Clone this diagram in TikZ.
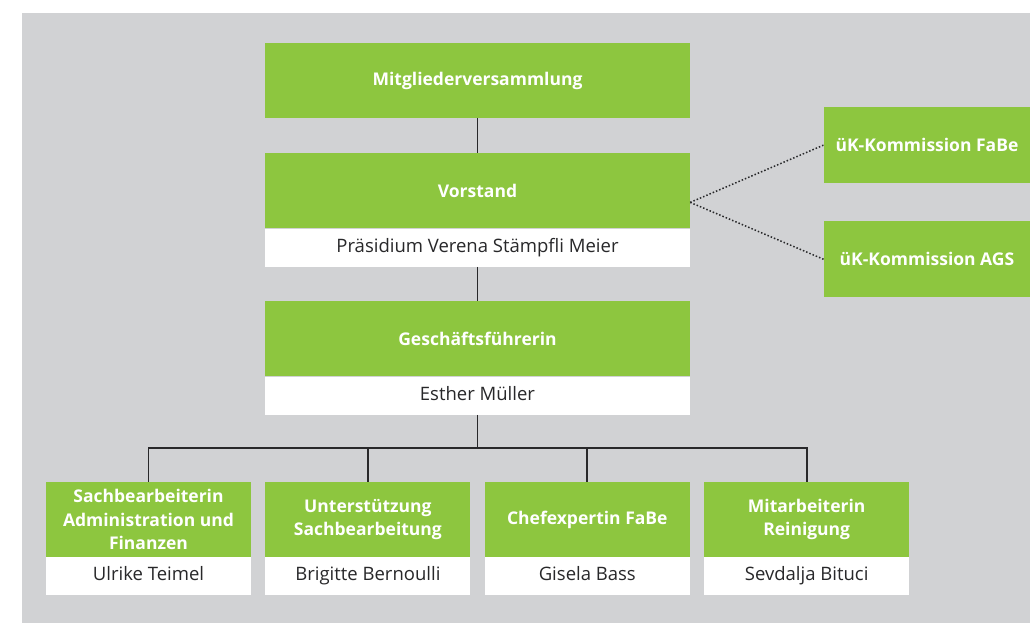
\documentclass[tikz,border=0pt]{standalone}
\usepackage{fontspec}
\setmainfont{Open Sans}
\usetikzlibrary{positioning}
\definecolor{orggreen}{RGB}{141, 198, 63}
\definecolor{orggray}{RGB}{209, 210, 212}
\definecolor{nametext}{RGB}{40, 40, 42}
\definecolor{linecolor}{RGB}{40, 40, 42}
\tikzset{
  rolebox/.style={
    rectangle, inner sep=0pt,
    minimum width=425bp, minimum height=75bp,
    text centered, align=center, font=\fontsize{17.5bp}{23.5bp}\selectfont\bfseries,
    fill=orggreen, text=white
  },
  namebox/.style={
    rectangle, inner sep=0pt,
    minimum width=425bp, minimum height=38bp,
    text height=13.5bp, text depth=4.5bp,
    text centered, font=\fontsize{18.5bp}{22bp}\selectfont,
    fill=white, text=nametext
  },
  staffbox/.style={
    rolebox, minimum width=205bp
  },
  staffname/.style={
    namebox, minimum width=205bp
  },
  kommbox/.style={
    rolebox, minimum width=206bp, minimum height=76bp
  },
  orgline/.style={
    line width=1.8bp, color=linecolor
  },
  dotline/.style={
    line width=1.5bp, color=linecolor, dash pattern=on 1.5bp off 2bp
  }
}
\begin{document}
\begin{tikzpicture}[x=1bp, y=1bp, node distance=35bp]

  % ── Canvas / background ─────────────────────────────────────
  \useasboundingbox (0,0) rectangle (1030,623);
  \fill[orggray] (22,0) rectangle (1030,610);

  % ── Main column ─────────────────────────────────────────────
  \node[rolebox] (mv) at (477.5,542.5) {Mitgliederversammlung};
  \node[rolebox, below=of mv]             (vorstand)  {Vorstand};
  \node[namebox, below=0pt of vorstand]   (praesidium) {Präsidium Verena Stämpfli Meier};
  \node[rolebox, below=34bp of praesidium] (gf)       {Geschäftsführerin};
  \node[namebox, below=0pt of gf]         (gfname)    {Esther Müller};

  % ── Commissions ─────────────────────────────────────────────
  \node[kommbox] (kfabe) at (927,478)     {üK-Kommission FaBe};
  \node[kommbox, below=38bp of kfabe] (kags) {üK-Kommission AGS};

  % ── Staff ───────────────────────────────────────────────────
  \node[staffbox] (sach) at (148.5,103.5) {Sachbearbeiterin\\Administration und\\Finanzen};
  \node[staffbox, right=14bp of sach]  (unter) {Unterstützung\\Sachbearbeitung};
  \node[staffbox, right=14bp of unter] (chef)  {Chefexpertin FaBe};
  \node[staffbox, right=14bp of chef]  (reinig) {Mitarbeiterin\\Reinigung};
  \node[staffname, below=0pt of sach]   (sachname)   {Ulrike Teimel};
  \node[staffname, below=0pt of unter]  (untername)  {Brigitte Bernoulli};
  \node[staffname, below=0pt of chef]   (chefname)   {Gisela Bass};
  \node[staffname, below=0pt of reinig] (reinigname) {Sevdalja Bituci};

  % ── Connectors ──────────────────────────────────────────────
  \draw[orgline] (mv) -- (vorstand);
  \draw[orgline] (praesidium) -- (gf);
  \draw[orgline] (gfname.south) -- ++(0,-34bp) coordinate (bus);
  \draw[orgline] (sach.north) -- ++(0,34bp) -| (reinig.north);
  \draw[orgline] (unter.north) -- ++(0,34bp);
  \draw[orgline] (chef.north) -- ++(0,34bp);

  % ── Commission links ────────────────────────────────────────
  \coordinate (vjunc) at ([yshift=-11.5bp]vorstand.east);
  \draw[dotline] (vjunc) -- (kfabe.west);
  \draw[dotline] (vjunc) -- (kags.west);

\end{tikzpicture}
\end{document}
